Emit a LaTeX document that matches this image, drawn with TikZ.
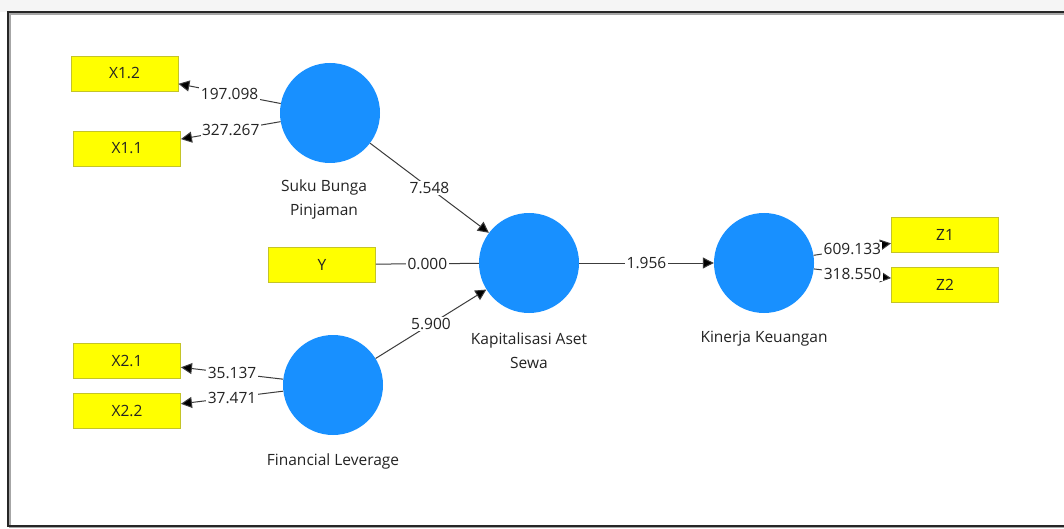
\documentclass[tikz,border=0pt]{standalone}
\usepackage{fontspec}
\setmainfont{Open Sans}
\usetikzlibrary{arrows.meta}
\definecolor{lvblue}{RGB}{24,144,255}
\definecolor{indyellow}{RGB}{255,255,0}
\definecolor{indborder}{RGB}{196,196,40}
\definecolor{linegray}{RGB}{60,60,60}
\definecolor{textgray}{RGB}{35,35,35}
\tikzset{
  latent/.style={circle, fill=lvblue, minimum size=100pt, inner sep=0pt},
  indicator/.style={rectangle, fill=indyellow, draw=indborder, line width=0.9pt,
    minimum width=107pt, minimum height=35pt, inner sep=0pt, text=textgray},
  lvname/.style={align=center, text=textgray},
  coef/.style={fill=white, inner sep=1.5pt, text=textgray},
  relation/.style={draw=linegray, line width=1pt,
    -{Triangle[length=11pt,width=11pt,fill=black]}},
}
\begin{document}
\begin{tikzpicture}[x=1pt, y=-1pt, font=\fontsize{15.5}{24}\selectfont]
  \useasboundingbox (0,0) rectangle (1064,529);
  \fill[black!4] (0,0) rectangle (1064,12);
  \fill[white] (0,12) rectangle (1064,529);
  \draw[black!35, line width=1.2pt] (10,14) rectangle (1090,527.5);
  \draw[black!85, line width=1.2pt] (8,12) rectangle (1088,526);
  \draw
    (330,113) node[latent] (sb){}
    (529,263) node[latent] (kas){}
    (333,385) node[latent] (fl){}
    (764,263) node[latent] (kk){}
    (324,199) node[lvname] (sbname){Suku Bunga\\Pinjaman}
    (529,350.5) node[lvname] (kasname){Kapitalisasi Aset\\Sewa}
    (333,461) node[lvname] (flname){Financial Leverage}
    (764,339) node[lvname] (kkname){Kinerja Keuangan}
    (124.5,73.5) node[indicator] (x12){X1.2}
    (127,148.5) node[indicator] (x11){X1.1}
    (322,264.5) node[indicator] (y){Y}
    (127,361) node[indicator] (x21){X2.1}
    (127,410.5) node[indicator] (x22){X2.2}
    (945,235) node[indicator] (z1){Z1}
    (945,284.5) node[indicator] (z2){Z2};
  \begin{scope}[relation]
    \draw (sb) -- node[coef]{197.098} (x12);
    \draw (sb) -- node[coef]{327.267} (x11);
    \draw (fl) -- node[coef]{35.137} (x21);
    \draw (fl) -- node[coef]{37.471} (x22);
    \draw (kk) -- node[coef]{609.133} (z1);
    \draw (kk) -- node[coef]{318.550} (z2);
    \draw (sb) -- node[coef]{7.548} (kas);
    \draw (fl) -- node[coef]{5.900} (kas);
    \draw[-] (y) -- node[coef]{0.000} (kas);
    \draw (kas) -- node[coef]{1.956} (kk);
  \end{scope}
\end{tikzpicture}
\end{document}
